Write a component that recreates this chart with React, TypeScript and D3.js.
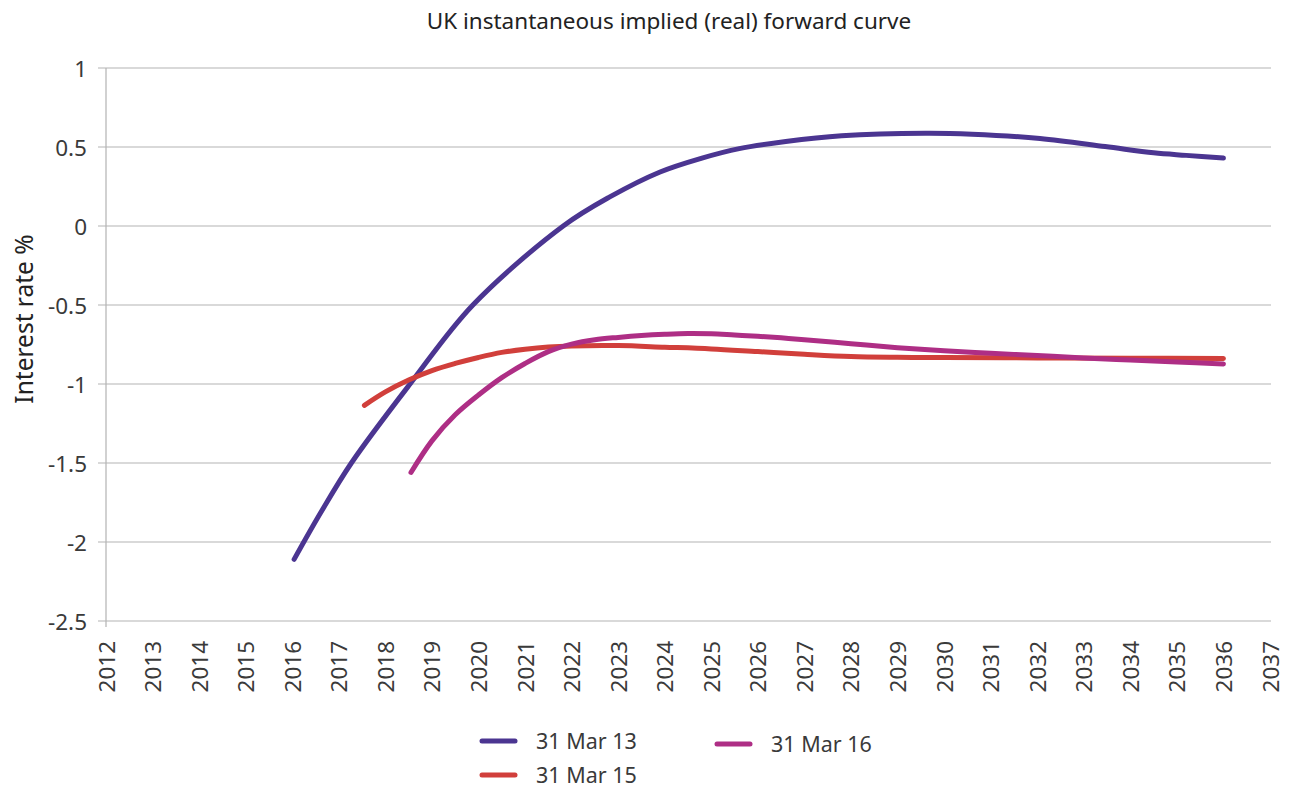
import React from "react";
import * as d3 from "d3";

const yearTicks = d3.range(2012, 2038);
const valueTicks = [1, 0.5, 0, -0.5, -1, -1.5, -2, -2.5];

const mar13Years = [2016.04, 2016.6, 2017.27, 2018.53, 2019.88, 2021.82, 2022.82, 2023.9, 2024.8, 2025.6, 2026.6, 2027.8, 2029.6, 2030.6, 2032.06, 2033.46, 2034.5, 2035.2, 2036.0];
const mar13Values = [-2.11, -1.82, -1.5, -1.0, -0.5, 0.0, 0.184, 0.342, 0.43, 0.49, 0.535, 0.571, 0.587, 0.581, 0.554, 0.503, 0.463, 0.447, 0.43];

const mar15Years = [2017.55, 2018.0, 2018.5, 2019.0, 2019.5, 2020.0, 2020.5, 2021.0, 2021.5, 2022.0, 2023.0, 2024.0, 2025.0, 2026.0, 2027.0, 2028.0, 2029.0, 2030.0, 2032.0, 2034.0, 2036.0];
const mar15Values = [-1.135, -1.05, -0.975, -0.915, -0.87, -0.832, -0.8, -0.78, -0.766, -0.759, -0.757, -0.767, -0.778, -0.795, -0.812, -0.826, -0.831, -0.833, -0.835, -0.837, -0.838];

const mar16Years = [2018.55, 2019.0, 2019.5, 2020.0, 2020.5, 2021.0, 2021.5, 2022.0, 2022.5, 2023.0, 2023.5, 2024.0, 2024.5, 2025.0, 2025.5, 2026.0, 2026.5, 2027.0, 2028.0, 2029.0, 2030.0, 2031.0, 2032.0, 2033.0, 2034.0, 2035.0, 2036.0];
const mar16Values = [-1.56, -1.36, -1.195, -1.07, -0.96, -0.87, -0.795, -0.748, -0.72, -0.705, -0.693, -0.685, -0.68, -0.682, -0.69, -0.698, -0.708, -0.72, -0.745, -0.77, -0.79, -0.805, -0.82, -0.835, -0.848, -0.86, -0.873];

const seriesNames = ["31 Mar 13", "31 Mar 15", "31 Mar 16"];
const seriesColors = ["#4B3591", "#D13F3B", "#AE2E85"];

const FONT = "'Noto Sans', 'Open Sans', sans-serif";
const TEXT = "#3a3a3a";

export default function App() {
  const x = d3.scaleLinear().domain([2012, 2037]).range([106, 1270]);
  const y = d3.scaleLinear().domain([-2.5, 1]).range([621, 68]);

  const line = d3
    .line<[number, number]>()
    .x((d) => x(d[0]))
    .y((d) => y(d[1]))
    .curve(d3.curveCatmullRom.alpha(0.5));

  const series = [
    { name: seriesNames[0], color: seriesColors[0], pts: mar13Years.map((yr, i) => [yr, mar13Values[i]] as [number, number]) },
    { name: seriesNames[1], color: seriesColors[1], pts: mar15Years.map((yr, i) => [yr, mar15Values[i]] as [number, number]) },
    { name: seriesNames[2], color: seriesColors[2], pts: mar16Years.map((yr, i) => [yr, mar16Values[i]] as [number, number]) },
  ];

  const legend = [
    { idx: 0, lx: 482, ly: 741 },
    { idx: 1, lx: 482, ly: 775 },
    { idx: 2, lx: 717, ly: 744 },
  ];

  return (
    <svg
      width={1293}
      height={787}
      style={{ position: "absolute", left: 0, top: 0, background: "#fff" }}
      fontFamily={FONT}
    >
      <text x={669} y={29} textAnchor="middle" fontSize={22.5} fill="#222">
        UK instantaneous implied (real) forward curve
      </text>

      {valueTicks.map((v) => (
        <g key={v}>
          <line x1={98} x2={1271} y1={y(v)} y2={y(v)} stroke="#b3b3b3" strokeWidth={1.2} />
          <text x={87} y={y(v)} textAnchor="end" dominantBaseline="central" fontSize={22.5} fill={TEXT}>
            {v}
          </text>
        </g>
      ))}
      <line x1={106} x2={106} y1={68} y2={627} stroke="#b3b3b3" strokeWidth={1.2} />

      {yearTicks.map((t) => (
        <text
          key={t}
          transform={`translate(${x(t)},641) rotate(-90)`}
          textAnchor="end"
          dominantBaseline="central"
          fontSize={22.5}
          fill={TEXT}
        >
          {t}
        </text>
      ))}

      <text
        transform={`translate(23,319) rotate(-90)`}
        textAnchor="middle"
        dominantBaseline="central"
        fontSize={24.5}
        fill="#222"
      >
        Interest rate %
      </text>

      {series.map((s) => (
        <path
          key={s.name}
          d={line(s.pts) || ""}
          fill="none"
          stroke={s.color}
          strokeWidth={5}
          strokeLinecap="round"
          strokeLinejoin="round"
        />
      ))}

      {legend.map((l) => (
        <g key={l.idx}>
          <line x1={l.lx} x2={l.lx + 33} y1={l.ly} y2={l.ly} stroke={seriesColors[l.idx]} strokeWidth={5} strokeLinecap="round" />
          <text x={l.lx + 54} y={l.ly - 1} dominantBaseline="central" fontSize={21.5} fill={TEXT}>
            {seriesNames[l.idx]}
          </text>
        </g>
      ))}
    </svg>
  );
}
